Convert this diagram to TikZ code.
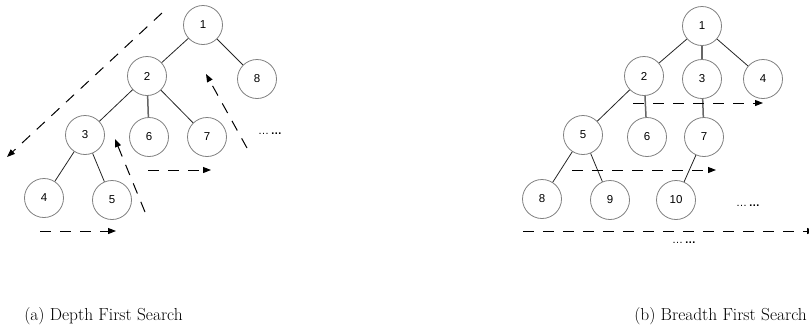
\documentclass[tikz,border=0pt]{standalone}
\usepackage{fontspec}
\newfontfamily\nodefont{Liberation Sans}
\usetikzlibrary{arrows.meta}
\tikzset{
  tnode/.style={circle,draw=black!50,line width=0.8pt,minimum size=39pt,inner sep=0pt,font=\nodefont\fontsize{11.5}{12}\selectfont,text=black},
  tedge/.style={draw=black!85,line width=0.8pt},
  vedge/.style={draw=black!60,line width=1.5pt},
  darrow/.style={draw=black,line width=1pt,dash pattern=on 11pt off 9pt,-{Triangle[length=8pt,width=6pt]}},
  ellip/.style={font=\nodefont\fontsize{11}{12}\selectfont,inner sep=0pt},
  captext/.style={font=\fontsize{17.4}{20}\selectfont,inner sep=0pt}
}
\begin{document}
\begin{tikzpicture}[x=1pt,y=-1pt]
\useasboundingbox (0,0) rectangle (809,330);
% left tree
\node[tnode] (L1) at (203,25) {1};
\node[tnode] (L2) at (147,76) {2};
\node[tnode] (L8) at (257,79) {8};
\node[tnode] (L3) at (85,135) {3};
\node[tnode] (L6) at (149,137) {6};
\node[tnode] (L7) at (207,137) {7};
\node[tnode] (L4) at (44,198) {4};
\node[tnode] (L5) at (112,200) {5};
\draw[tedge] (L1) -- (L2);
\draw[tedge] (L1) -- (L8);
\draw[tedge] (L2) -- (L3);
\draw[vedge] (L2) -- (L6);
\draw[tedge] (L2) -- (L7);
\draw[tedge] (L3) -- (L4);
\draw[tedge] (L3) -- (L5);
\node[ellip] (Ldots) at (270,134) {…\,\textbf{…}};
\coordinate (a1s) at (162,13); \coordinate (a1e) at (7,157);
\coordinate (a2s) at (145,212); \coordinate (a2e) at (115,139);
\coordinate (a3s) at (247,148); \coordinate (a3e) at (206,74);
\coordinate (a4s) at (148,170); \coordinate (a4e) at (211,170);
\coordinate (a5s) at (40,231); \coordinate (a5e) at (116,231);
\draw[darrow] (a1s) -- (a1e);
\draw[darrow] (a2s) -- (a2e);
\draw[darrow] (a3s) -- (a3e);
\draw[darrow] (a4s) -- (a4e);
\draw[darrow] (a5s) -- (a5e);
% right tree
\node[tnode] (R1) at (702,26) {1};
\node[tnode] (R2) at (644,76) {2};
\node[tnode] (R3) at (702,79) {3};
\node[tnode] (R4) at (763,79) {4};
\node[tnode] (R5) at (583,135) {5};
\node[tnode] (R6) at (647,137) {6};
\node[tnode] (R7) at (704,137) {7};
\node[tnode] (R8) at (542,199) {8};
\node[tnode] (R9) at (610,200) {9};
\node[tnode] (R10) at (676,200) {10};
\draw[tedge] (R1) -- (R2);
\draw[vedge] (R1) -- (R3);
\draw[tedge] (R1) -- (R4);
\draw[tedge] (R2) -- (R5);
\draw[vedge] (R2) -- (R6);
\draw[vedge] (R3) -- (R7);
\draw[tedge] (R5) -- (R8);
\draw[tedge] (R5) -- (R9);
\draw[tedge] (R7) -- (R10);
\node[ellip] (Rdots1) at (748,206) {…\,\textbf{…}};
\node[ellip] (Rdots2) at (684,243) {…\,\textbf{…}};
\coordinate (b1s) at (633,103); \coordinate (b1e) at (763,103);
\coordinate (b2s) at (572,170); \coordinate (b2e) at (716,170);
\coordinate (b3s) at (523,231); \coordinate (b3e) at (815,231);
\draw[darrow] (b1s) -- (b1e);
\draw[darrow] (b2s) -- (b2e);
\draw[darrow] (b3s) -- (b3e);
% captions
\node[captext] (capa) at (103.5,316) {(a) Depth First Search};
\node[captext] (capb) at (720.5,316) {(b) Breadth First Search};
\end{tikzpicture}
\end{document}
